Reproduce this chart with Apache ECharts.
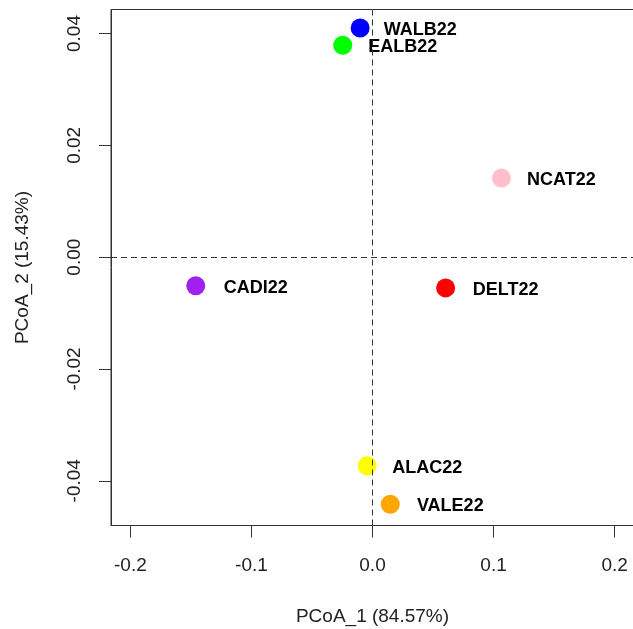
<!DOCTYPE html>
<html>
<head>
<meta charset="utf-8">
<style>
  html, body { margin: 0; padding: 0; background: #fff; }
  #chart { width: 633px; height: 629px; }
</style>
<script src="https://cdn.jsdelivr.net/npm/echarts@6/dist/echarts.min.js"></script>
</head>
<body>
<div id="chart"></div>
<script>
// ---- data ----
const sampleNames = ['WALB22', 'EALB22', 'NCAT22', 'CADI22', 'DELT22', 'ALAC22', 'VALE22'];
const pcoa1 = [-0.0102, -0.0246, 0.1065, -0.1460, 0.0604, -0.0044, 0.0147];
const pcoa2 = [0.0410, 0.0379, 0.01415, -0.0051, -0.0055, -0.0373, -0.0442];
const pointColors = ['#0000ff', '#00ff00', '#ffc0cb', '#a020f0', '#ff0000', '#ffff00', '#ffa500'];
const xTicks = [-0.2, -0.1, 0.0, 0.1, 0.2];
const yTicks = [-0.04, -0.02, 0.00, 0.02, 0.04];
const xTitle = 'PCoA_1 (84.57%)';
const yTitle = 'PCoA_2 (15.43%)';

const FONT = "'Liberation Sans', Arial, sans-serif";
const chart = echarts.init(document.getElementById('chart'), null, { renderer: 'canvas' });

const points = sampleNames.map((n, i) => ({
  name: n,
  value: [pcoa1[i], pcoa2[i]],
  itemStyle: { color: pointColors[i], opacity: 1 }
}));

chart.setOption({
  animation: false,
  backgroundColor: '#ffffff',
  grid: {
    left: 111, top: 9.5, width: 523, height: 516,
    show: true, borderColor: '#333', borderWidth: 1,
    containLabel: false, outerBoundsMode: 'none'
  },
  xAxis: {
    type: 'value', min: -0.216, max: 0.216,
    name: xTitle, nameLocation: 'middle', nameGap: 82,
    nameTextStyle: { fontFamily: FONT, fontSize: 19, color: '#222' },
    splitLine: { show: false },
    axisLine: { show: true, onZero: false, lineStyle: { color: '#333', width: 1 } },
    axisTick: { show: true, length: 12, inside: false, customValues: xTicks, lineStyle: { color: '#333', width: 1 } },
    axisLabel: {
      customValues: xTicks, margin: 31, fontFamily: FONT, fontSize: 19, color: '#222',
      formatter: v => v.toFixed(1)
    }
  },
  yAxis: {
    type: 'value', min: -0.048, max: 0.0443,
    name: yTitle, nameLocation: 'middle', nameGap: 79, nameRotate: 90,
    nameTextStyle: { fontFamily: FONT, fontSize: 19, color: '#222' },
    splitLine: { show: false },
    axisLine: { show: true, onZero: false, lineStyle: { color: '#333', width: 1 } },
    axisTick: { show: true, length: 12, inside: false, customValues: yTicks, lineStyle: { color: '#333', width: 1 } },
    axisLabel: {
      customValues: yTicks, margin: 27, rotate: 90, fontFamily: FONT, fontSize: 19, color: '#222',
      formatter: v => v.toFixed(2)
    }
  },
  series: [{
    type: 'scatter',
    symbol: 'circle',
    symbolSize: 19,
    itemStyle: { opacity: 1 },
    data: points,
    label: {
      show: true,
      position: 'inside',
      offset: [60, 2],
      formatter: p => p.name,
      fontFamily: FONT, fontSize: 18, fontWeight: 'bold', color: '#000', opacity: 1
    },
    markLine: {
      silent: true,
      symbol: ['none', 'none'],
      label: { show: false },
      lineStyle: { type: [6, 4], color: '#333', width: 1 },
      data: [{ xAxis: 0 }, { yAxis: 0 }]
    },
    z: 3
  }]
});
</script>
</body>
</html>
